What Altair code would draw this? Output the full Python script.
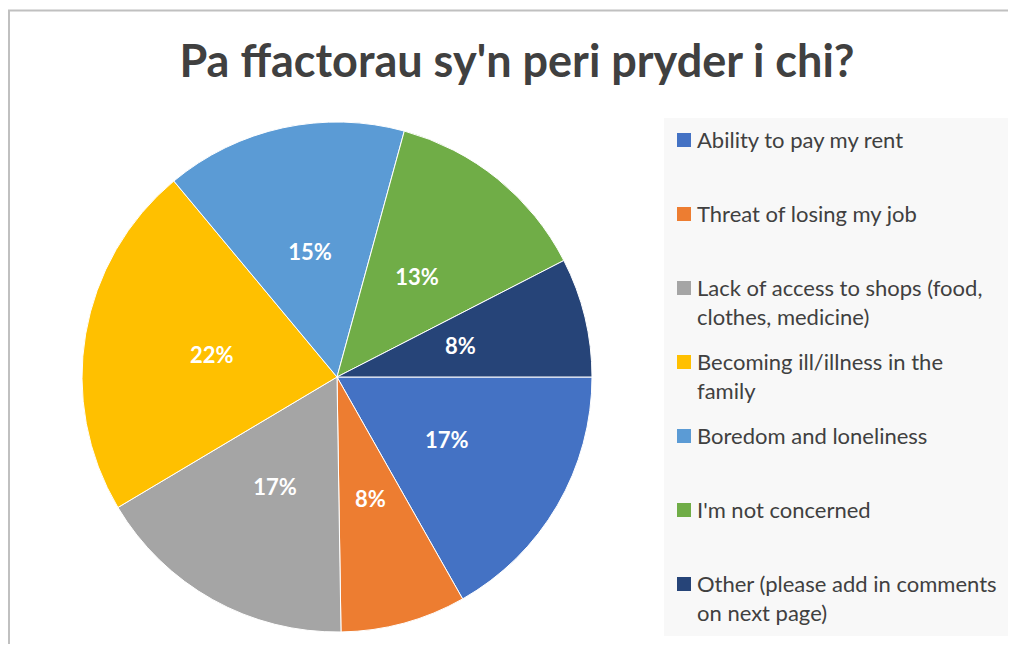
import math
import altair as alt
import pandas as pd

categories = [
    "Ability to pay my rent",
    "Threat of losing my job",
    "Lack of access to shops (food,\nclothes, medicine)",
    "Becoming ill/illness in the\nfamily",
    "Boredom and loneliness",
    "I'm not concerned",
    "Other (please add in comments\non next page)",
]
shares = [16.8, 7.95, 16.7, 22.5, 15.3, 13.2, 7.55]
pct_labels = ["17%", "8%", "17%", "22%", "15%", "13%", "8%"]
colors = ["#4472C4", "#ED7D31", "#A5A5A5", "#FFC000", "#5B9BD5", "#70AD47", "#264478"]
title_text = "Pa ffactorau sy'n peri pryder i chi?"

df = pd.DataFrame({
    "idx": list(range(len(categories))),
    "category": categories,
    "share": shares,
    "label": pct_labels,
    "color": colors,
})

FONT = "Lato"
TXT = "#404040"
CX, CY, R = 329, 369, 255

theta_scale = alt.Scale(range=[math.pi / 2, math.pi / 2 + 2 * math.pi])

base = alt.Chart(df)

pie = base.mark_arc(radius=R, stroke="white", strokeWidth=1).encode(
    theta=alt.Theta("share:Q", stack=True, scale=theta_scale),
    order=alt.Order("idx:Q"),
    color=alt.Color("color:N", scale=None),
    x=alt.value(CX),
    y=alt.value(CY),
)

pie_labels = base.mark_text(
    radius=127, font=FONT, fontSize=22, fontWeight="bold", color="white",
    align="center", baseline="middle",
).encode(
    theta=alt.Theta("share:Q", stack=True, scale=theta_scale),
    order=alt.Order("idx:Q"),
    text="label:N",
    x=alt.value(CX),
    y=alt.value(CY),
)

legend_bg = alt.Chart(pd.DataFrame({"a": [0]})).mark_rect(color="#F8F8F8").encode(
    x=alt.value(656), x2=alt.value(1005), y=alt.value(110), y2=alt.value(628)
)

yscale = alt.Scale(domain=[0, 6], range=[132, 576])

leg_sym = base.mark_square(size=196, opacity=1).encode(
    x=alt.value(676),
    y=alt.Y("idx:Q", scale=yscale, axis=None),
    color=alt.Color("color:N", scale=None),
)

leg_txt = base.mark_text(
    font=FONT, fontSize=22, color=TXT, align="left", baseline="alphabetic",
    lineBreak="\n", lineHeight=29, dy=8,
).encode(
    x=alt.value(689),
    y=alt.Y("idx:Q", scale=yscale, axis=None),
    text="category:N",
)

title = alt.Chart(pd.DataFrame({"t": [title_text]})).mark_text(
    font=FONT, fontSize=45, fontWeight="bold", color=TXT, align="center", baseline="alphabetic",
).encode(x=alt.value(509), y=alt.value(69), text="t:N")

border_top = alt.Chart(pd.DataFrame({"a": [0]})).mark_rule(color="#C0C0C0", strokeWidth=2).encode(
    x=alt.value(0), x2=alt.value(1000), y=alt.value(2.5)
)
border_left = alt.Chart(pd.DataFrame({"a": [0]})).mark_rule(color="#C0C0C0", strokeWidth=2).encode(
    x=alt.value(1), y=alt.value(2), y2=alt.value(636)
)

chart = alt.layer(
    border_top, border_left, legend_bg, pie, pie_labels, leg_sym, leg_txt, title
).properties(
    width=1000, height=636, autosize=alt.AutoSizeParams(type="none"), padding=0,
    background="white",
).configure_view(stroke=None)

chart.save("out.html", embed_options={"renderer": "svg", "actions": False})
